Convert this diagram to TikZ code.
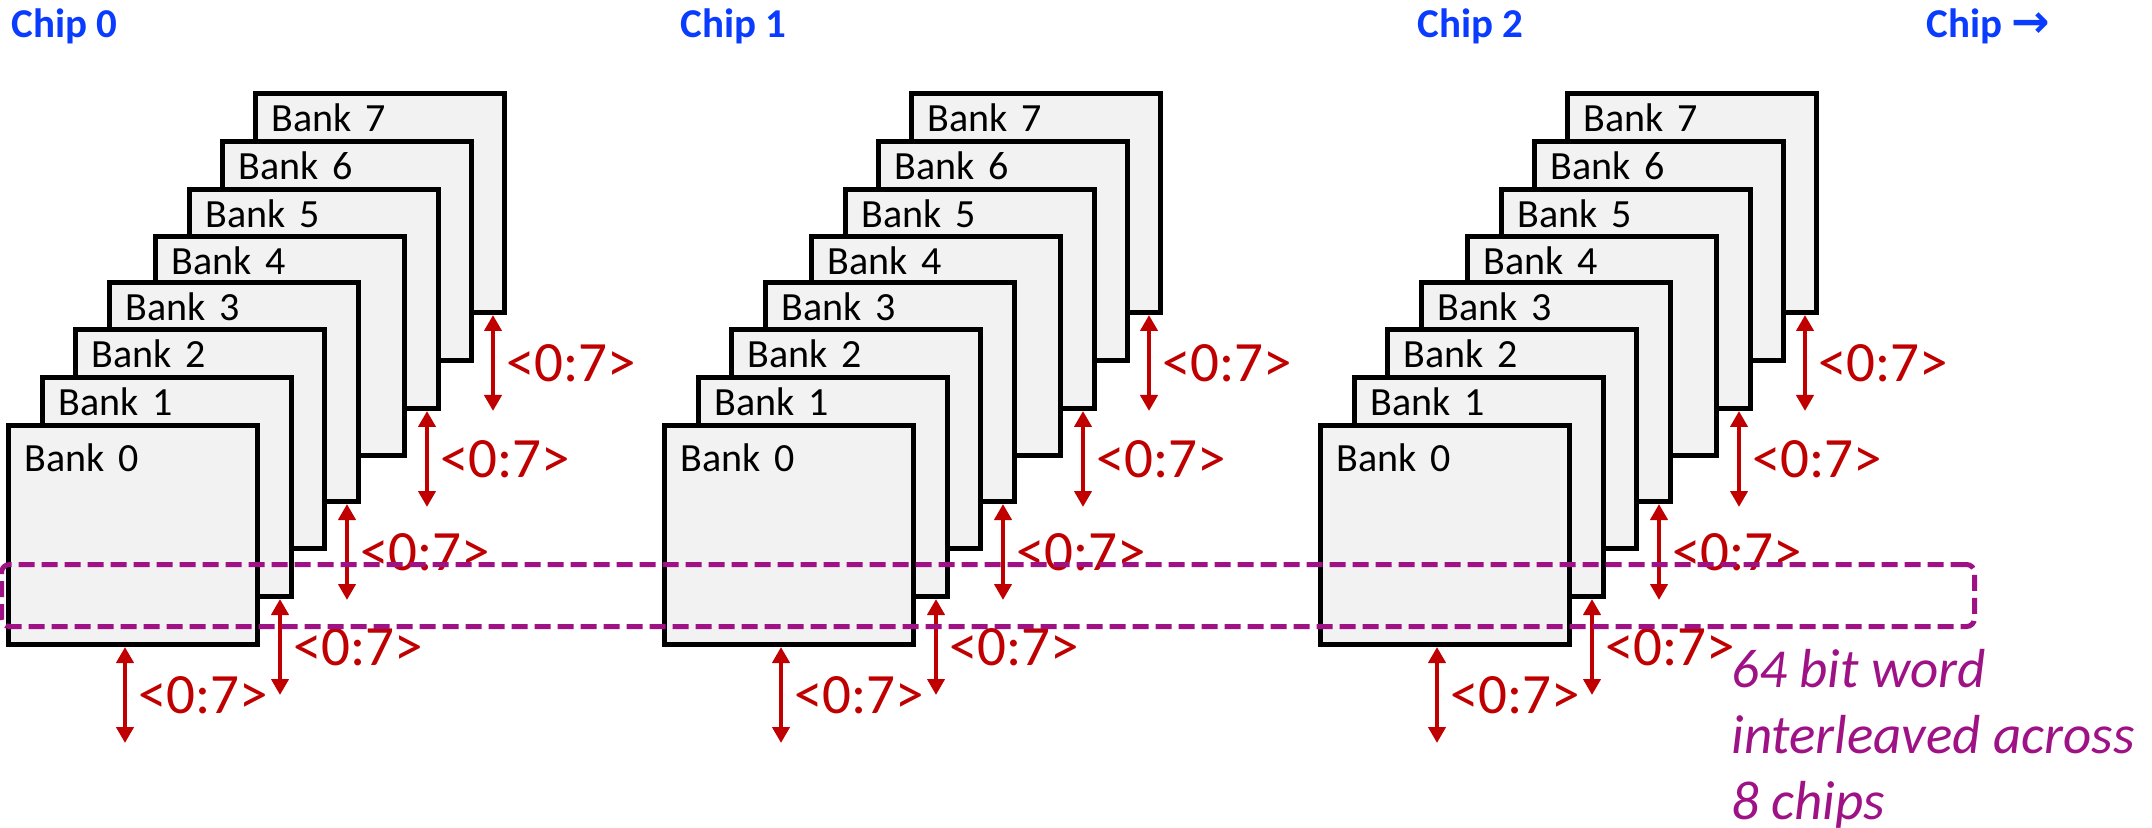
\documentclass[tikz,border=0pt]{standalone}
\usepackage{fontspec}
\setmainfont{Carlito}
\newfontfamily\arrowfam{DejaVu Sans}
\usetikzlibrary{arrows.meta,positioning}
\definecolor{chipblue}{HTML}{0A3CFF}
\definecolor{busred}{HTML}{C00000}
\definecolor{wordpurple}{HTML}{9E1286}
\definecolor{bankgray}{HTML}{F2F2F2}

\begin{document}
\begin{tikzpicture}[x=0.5pt, y=-0.5pt,
  bank/.style={draw, line width=2.6pt, fill=bankgray, anchor=north west, align=left,
    minimum width=124.4pt, minimum height=109.4pt, inner xsep=8pt, inner ysep=0pt,
    text width=108.4pt, text height=19pt, text depth=90.4pt, font=\fontsize{20}{24}\selectfont},
  front/.style={text height=23pt, text depth=86.4pt},
  chiplabel/.style={anchor=base west, inner sep=0pt, text=chipblue, font=\fontsize{20.5}{24}\selectfont\bfseries},
  bus/.style={{Triangle[length=8pt,width=8.5pt]}-{Triangle[length=8pt,width=8.5pt]}, line width=2.3pt, color=busred},
  buslabel/.style={anchor=west, inner sep=0pt, xshift=5.5pt, text=busred, font=\fontsize{28.5}{33}\selectfont},
  wordframe/.style={draw=wordpurple, line width=2.5pt, dash pattern=on 8pt off 3.5pt, rounded corners=4pt,
    anchor=north west, minimum width=986.5pt, minimum height=31pt, inner sep=0pt},
  wordnote/.style={anchor=north west, inner sep=0pt, align=left, text=wordpurple, font=\fontsize{27.5}{33}\selectfont\itshape}
]
  \useasboundingbox (0,0) rectangle (2152,828);

  % Chip titles
  \node[chiplabel] (chip0) at (11,38) {Chip 0};
  \node[chiplabel] (chip1) at (680,38) {Chip 1};
  \node[chiplabel] (chip2) at (1417,38) {Chip 2};
  \node[chiplabel] (chipn) at (1926,38) {Chip {\arrowfam\bfseries\fontsize{23}{24}\selectfont →}};

  % Banks of each chip, back to front, with their <0:7> buses
  \foreach \c in {0,1,2} {
    \foreach \k/\dx/\dy in {7/247/-332, 6/214/-284, 5/181/-236, 4/147/-189, 3/101/-143, 2/67/-96, 1/34/-48}
      \node[bank] (c\c b\k) at (6+656*\c+\dx, 423+\dy) {Bank \k};
    \node[bank, front] (c\c b0) at (6+656*\c, 423) {Bank 0};

    \coordinate (c\c e0) at ([shift={(-4pt,-48pt)}]c\c b0.south);
    \draw[bus] ([xshift=-4pt]c\c b0.south) -- node[buslabel] {<0:7>} (c\c e0);
    \foreach \k in {1,3,5,7} {
      \coordinate (c\c e\k) at ([shift={(-7pt,-48pt)}]c\c b\k.south east);
      \draw[bus] ([xshift=-7pt]c\c b\k.south east) -- node[buslabel] {<0:7>} (c\c e\k);
    }
  }

  % 64 bit word across all chips
  \node[wordframe] (word) at (-1,562) {};
  \node[wordnote] (note) at (1731,649) {64 bit word\\interleaved across\\8 chips};
\end{tikzpicture}
\end{document}
